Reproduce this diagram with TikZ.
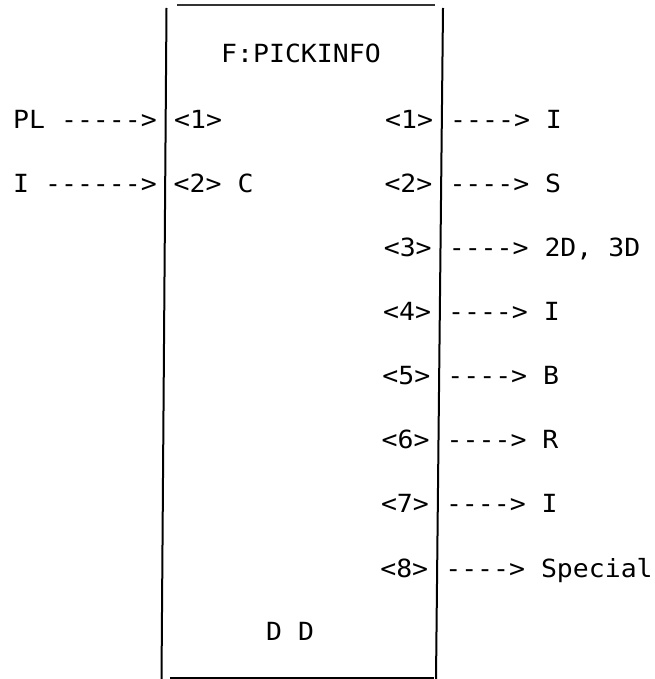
\documentclass[tikz,border=0pt]{standalone}
\usepackage{fontspec}
\setmonofont[FakeStretch=1.06]{DejaVu Sans Mono}
\begin{document}
\begin{tikzpicture}[x=1pt,y=-1pt,
  txt/.style={anchor=base west, inner sep=0pt, font=\ttfamily\fontsize{25}{30}\selectfont},
  frame/.style={line width=2pt, line cap=butt}]
\useasboundingbox (0,0) rectangle (654,679);
% frame of the block
\coordinate (tl) at (166.5,8);
\coordinate (bl) at (161.5,679);
\coordinate (tr) at (443,8);
\coordinate (br) at (436,679);
\draw[frame] (tl) -- (bl);
\draw[frame] (tr) -- (br);
\coordinate (ta) at (177,5);
\coordinate (tb) at (435,5);
\draw[line width=1.5pt, black!80] (ta) -- (tb);
\coordinate (ba) at (170,678);
\coordinate (bb) at (434,678);
\draw[line width=2.2pt] (ba) -- (bb);
% title and footer
\node[txt] (title) at (221,63) {F:PICKINFO};
\node[txt] (foot) at (266,640) {D D};
% inputs
\node[txt] (inPL) at (13,128.3) {PL ----->};
\node[txt] (inI) at (13,192.4) {I ------>};
\node[txt] (p1) at (174,128.3) {<1>};
\node[txt] (p2) at (173.5,192.4) {<2> C};
% outputs
\foreach \k/\lab in {1/I,2/S,3/{2D, 3D},4/I,5/B,6/R,7/I,8/Special}{
  \pgfmathsetmacro{\yy}{128.3+64.1*(\k-1)}
  \pgfmathsetmacro{\xo}{385-0.7*(\k-1)}
  \pgfmathsetmacro{\xa}{450-0.7*(\k-1)}
  \node[txt] (o\k) at (\xo,\yy) {<\k>};
  \node[txt] (r\k) at (\xa,\yy) {----> \lab};
}
\end{tikzpicture}
\end{document}
